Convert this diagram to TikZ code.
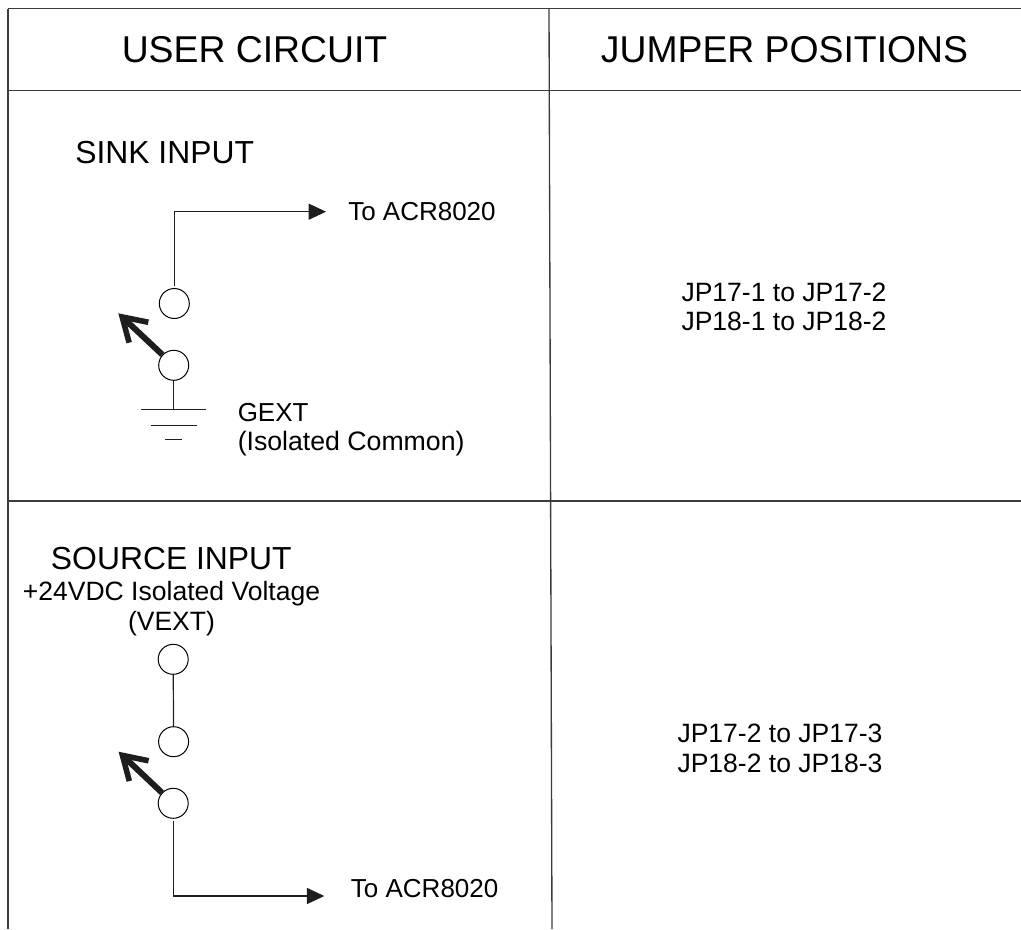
\documentclass[tikz,border=0pt]{standalone}
\usepackage{fontspec}
\setmainfont{Liberation Sans}
\usetikzlibrary{arrows.meta}
\tikzset{
  rule/.style={line width=1pt,color={rgb,255:red,60;green,60;blue,60}},
  wire/.style={line width=0.9pt,color={rgb,255:red,30;green,30;blue,30}},
  terminal/.style={circle,draw,line width=0.75pt,minimum size=22.5pt,inner sep=0pt},
  feed/.style={wire,shorten <=1.5pt,-{Triangle[length=13pt,width=12pt]}},
  switcharm/.style={line width=4.5pt,color={rgb,255:red,30;green,30;blue,30},-{Straight Barb[length=17pt,width=21pt,line width=4.2pt]}},
  headtext/.style={anchor=base,inner sep=0pt,font=\fontsize{28}{34}\selectfont},
  titletext/.style={anchor=base west,inner sep=0pt,font=\fontsize{23.9}{28}\selectfont},
  smalltext/.style={anchor=base west,inner sep=0pt,font=\fontsize{19.5}{24}\selectfont},
  subtext/.style={anchor=base,inner sep=0pt,font=\fontsize{19.9}{24}\selectfont}
}
\begin{document}
\begin{tikzpicture}[x=0.75pt,y=0.75pt,yscale=-1,xscale=1]
\useasboundingbox (0,0) rectangle (1021,929);
%Shape: Table
\draw [rule] (8,8.5) -- (1021,8.5);
\draw [rule] (8,90.7) -- (1021,90.7);
\draw [rule] (8,501) -- (1021,501);
\draw [rule] (8,8.5) -- (8,929);
\draw [rule] (549,8.5) -- (552,929);
%Text: header
\node [headtext] (user) at (254.5,62) {USER CIRCUIT};
\node [headtext] (jumper) at (784.5,62) {JUMPER POSITIONS};
%Circuit: sink
\node [titletext] (sinktitle) at (75,163) {SINK INPUT};
\node [terminal] (sinkA) at (174.3,303.5) {};
\node [terminal] (sinkB) at (173.7,365.3) {};
\coordinate (sinkcorner) at (174.3,211.7);
\coordinate (sinktip) at (326,211.7);
\coordinate (sinkarm) at (118.3,313.3);
\coordinate (gnd) at (173.7,409.3);
\coordinate (gndAl) at (141,409.3);
\coordinate (gndAr) at (206,409.3);
\coordinate (gndBl) at (150.7,425.3);
\coordinate (gndBr) at (197,425.3);
\coordinate (gndCl) at (165,439.7);
\coordinate (gndCr) at (182,439.7);
\node [smalltext] (sinkto) at (348,220) {To ACR8020};
\node [smalltext] (gext) at (237.5,421.7) {GEXT};
\node [smalltext,font=\fontsize{20}{24}\selectfont] (common) at (237.5,450) {(Isolated Common)};
\draw [feed] (sinkA) -- (sinkcorner) -- (sinktip);
\draw [switcharm] (sinkB) -- (sinkarm);
\draw [wire] (sinkB) -- (gnd);
\draw [wire] (gndAl) -- (gndAr);
\draw [wire] (gndBl) -- (gndBr);
\draw [wire] (gndCl) -- (gndCr);
%Circuit: source
\node [titletext] (sourcetitle) at (50.7,569.3) {SOURCE INPUT};
\node [subtext] (supply) at (171.5,600.7) {+24VDC Isolated Voltage};
\node [subtext] (vext) at (171.5,630.7) {(VEXT)};
\node [terminal] (sourceA) at (173.2,659.3) {};
\node [terminal] (sourceB) at (173.6,741.7) {};
\node [terminal] (sourceC) at (173.2,803.3) {};
\coordinate (sourcecorner) at (173.2,896);
\coordinate (sourcetip) at (324.3,896);
\coordinate (sourcearm) at (118.6,751.7);
\node [smalltext] (sourceto) at (350.7,897.7) {To ACR8020};
\draw [wire] (sourceA) -- (sourceB);
\draw [switcharm] (sourceC) -- (sourcearm);
\draw [feed] (sourceC) -- (sourcecorner) -- (sourcetip);
%Text: jumpers
\node [subtext] (sinkjpA) at (784,301.7) {JP17-1 to JP17-2};
\node [subtext] (sinkjpB) at (784,330) {JP18-1 to JP18-2};
\node [subtext] (sourcejpA) at (780,742.3) {JP17-2 to JP17-3};
\node [subtext] (sourcejpB) at (780,772.3) {JP18-2 to JP18-3};
\end{tikzpicture}
\end{document}
